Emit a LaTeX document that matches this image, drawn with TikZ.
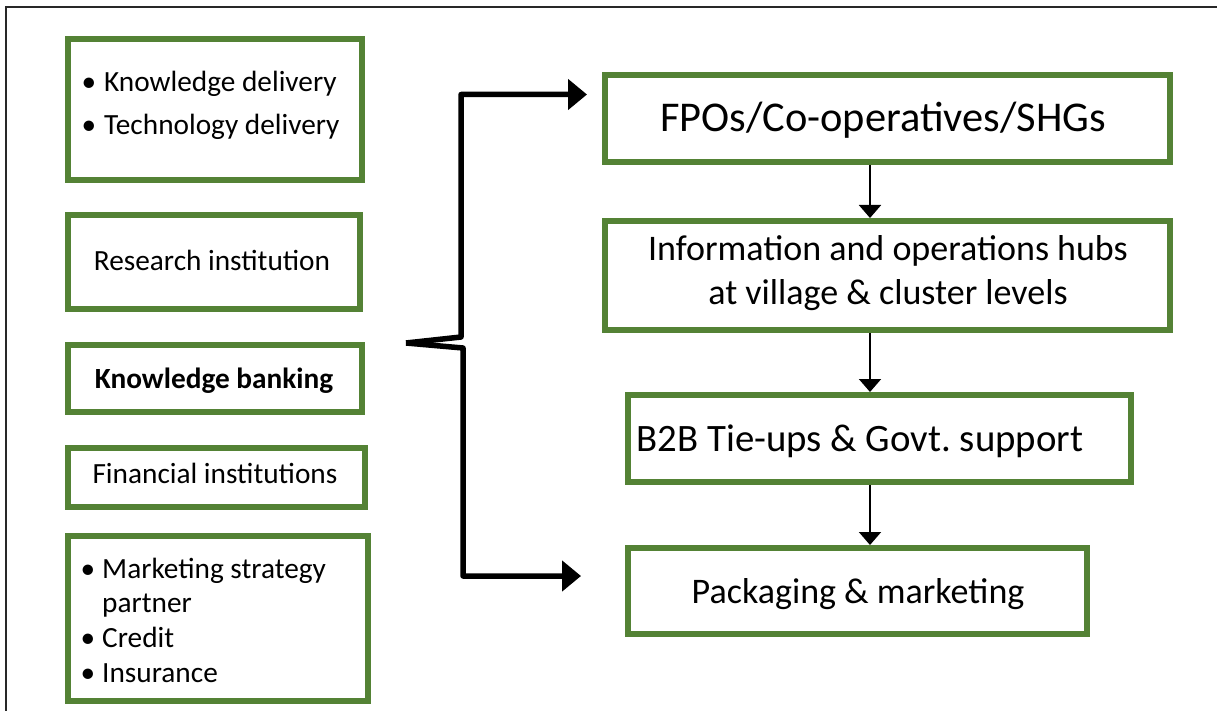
\documentclass[tikz,border=0pt]{standalone}
\usepackage{fontspec}
\setmainfont{Carlito}
\usetikzlibrary{arrows.meta,calc}
\definecolor{boxgreen}{RGB}{84,130,53}
\definecolor{framegray}{RGB}{40,40,40}
\begin{document}
\begin{tikzpicture}[x=1pt,y=-1pt,
  gbox/.style={draw=boxgreen, line width=6pt, fill=white, inner sep=0pt},
  ltxt/.style={font=\fontsize{29.3}{35}\selectfont, inner sep=0pt},
  rtxt/.style={font=\fontsize{36}{43}\selectfont, inner sep=0pt},
  btxt/.style={font=\fontsize{38.8}{46}\selectfont, inner sep=0pt},
  ftxt/.style={font=\fontsize{42.4}{50}\selectfont, inner sep=0pt},
  varrow/.style={draw=black, line width=2pt, -{Triangle[width=22pt,length=13pt]}},
  brace/.style={draw=black, line width=5.5pt, line join=round, -{Triangle[width=30pt,length=19pt]}}]
\useasboundingbox (0,0) rectangle (1217,711);
\clip (0,0) rectangle (1217,711);
\fill[white] (0,0) rectangle (1217,711);
% outer frame (only top and left visible)
\draw[framegray, line width=1.5pt] (6,730) -- (6,7) -- (1240,7);

% left boxes
\node[gbox, minimum width=294pt, minimum height=141pt] (b1) at (215,109.5) {};
\node[gbox, minimum width=292pt, minimum height=94pt]  (b2) at (214,262) {};
\node[gbox, minimum width=294pt, minimum height=67pt]  (b3) at (215,378.5) {};
\node[gbox, minimum width=297pt, minimum height=59pt]  (b4) at (216.5,477.5) {};
\node[gbox, minimum width=300pt, minimum height=165pt] (b5) at (218,618.5) {};

% left texts
\node[ltxt, anchor=base] (b1bu1) at (89,92) {•};
\node[ltxt, anchor=base west] (b1t1) at (104,92) {Knowledge delivery};
\node[ltxt, anchor=base] (b1bu2) at (89,135) {•};
\node[ltxt, anchor=base west] (b1t2) at (104,135) {Technology delivery};
\node[ltxt, anchor=base] (b2t) at (212,270) {Research institution};
\node[ltxt, anchor=base, font=\fontsize{29.3}{35}\selectfont\bfseries] (b3t) at (214,388) {Knowledge banking};
\node[ltxt, anchor=base] (b4t) at (215,483) {Financial institutions};
\node[ltxt, anchor=base] (b5bu1) at (88,578) {•};
\node[ltxt, anchor=base west] (b5t1) at (102,578) {Marketing strategy};
\node[ltxt, anchor=base west] (b5t2) at (102,612) {partner};
\node[ltxt, anchor=base] (b5bu2) at (88,647) {•};
\node[ltxt, anchor=base west] (b5t3) at (102,647) {Credit};
\node[ltxt, anchor=base] (b5bu3) at (88,682) {•};
\node[ltxt, anchor=base west] (b5t4) at (102,682) {Insurance};

% right boxes
\node[gbox, minimum width=565pt, minimum height=87pt]  (r1) at (887.5,118.5) {};
\node[gbox, minimum width=565pt, minimum height=109pt] (r2) at (887.5,275.5) {};
\node[gbox, minimum width=503pt, minimum height=87pt]  (r3) at (879.5,438.5) {};
\node[gbox, minimum width=459pt, minimum height=86pt]  (r4) at (857.5,591) {};

% right texts
\node[ftxt, anchor=base] (r1t) at (883,132) {FPOs/Co-operatives/SHGs};
\node[rtxt, anchor=base] (r2t1) at (888,261) {Information and operations hubs};
\node[rtxt, anchor=base] (r2t2) at (888,304) {at village \& cluster levels};
\node[btxt, anchor=base] (r3t) at (860,451) {B2B Tie-ups \& Govt.\ support};
\node[rtxt, anchor=base] (r4t) at (858,603) {Packaging \& marketing};

% vertical arrows
\coordinate (ax) at (870,0);
\draw[varrow] (ax |- r1.south) -- (ax |- r2.north);
\draw[varrow] (ax |- r2.south) -- (ax |- r3.north);
\draw[varrow] (ax |- r3.south) -- (ax |- r4.north);

% bracket
\coordinate (tipA) at (587,94.5);
\coordinate (tipB) at (581,576);
\coordinate (kink) at (406,343);
\draw[brace] (kink) -- (461,337) -- (461,94.5) -- (tipA);
\draw[brace] (kink) -- (463,348) -- (463,576) -- (tipB);
\end{tikzpicture}
\end{document}
